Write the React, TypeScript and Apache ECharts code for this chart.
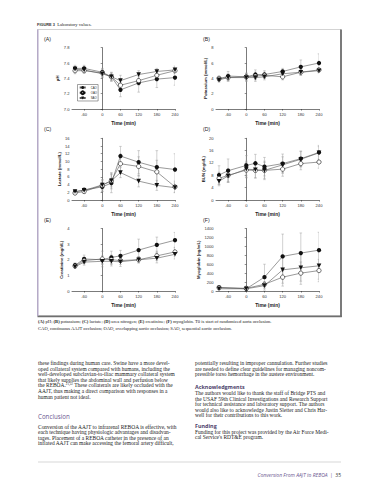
import React, { useEffect, useRef } from "react";
import * as echarts from "echarts";

const timeFull = [-90, -60, 0, 30, 60, 120, 180, 240];
const timeMyo = [-90, 0, 60, 120, 180, 240];
const xTicks = [-60, 0, 60, 120, 180, 240];
const groups = ["CAO", "OAO", "SAO"];

// (A) pH
const phCAO = [7.53, 7.53, 7.48, 7.42, 7.25, 7.34, 7.39, 7.41];
const phOAO = [7.5, 7.5, 7.47, 7.42, 7.31, 7.37, 7.44, 7.5];
const phSAO = [7.52, 7.51, 7.46, 7.42, 7.37, 7.45, 7.49, 7.51];
const phCAOsd = [0.04, 0.04, 0.05, 0.05, 0.09, 0.12, 0.11, 0.1];
const phOAOsd = [0.04, 0.03, 0.05, 0.06, 0.08, 0.06, 0.06, 0.04];
const phSAOsd = [0.03, 0.04, 0.05, 0.05, 0.07, 0.05, 0.04, 0.05];

// (B) potassium
const kCAO = [3.9, 4.3, 4.2, 4.5, 4.5, 4.9, 5.5, 6.0];
const kOAO = [4.0, 4.1, 4.2, 4.3, 4.4, 4.2, 4.8, 5.1];
const kSAO = [3.8, 4.1, 4.1, 4.1, 4.2, 4.6, 4.8, 5.0];
const kCAOsd = [0.3, 0.6, 0.5, 0.6, 0.5, 0.4, 0.9, 1.2];
const kOAOsd = [0.3, 0.4, 0.4, 0.5, 0.4, 0.4, 0.4, 0.3];
const kSAOsd = [0.3, 0.5, 0.5, 0.5, 0.4, 0.3, 0.4, 0.3];

// (C) lactate
const lacCAO = [2.1, 2.6, 3.4, 4.4, 11.4, 9.8, 8.5, 7.9];
const lacOAO = [1.8, 2.2, 3.8, 5.0, 9.4, 8.7, 7.3, 3.4];
const lacSAO = [2.2, 2.5, 3.9, 5.0, 7.1, 4.9, 3.8, 3.2];
const lacCAOsd = [0.4, 0.6, 1.2, 2.5, 2.5, 3.0, 4.3, 4.1];
const lacOAOsd = [0.4, 0.5, 1.5, 2.1, 2.5, 2.5, 3.0, 1.5];
const lacSAOsd = [0.4, 0.6, 1.2, 1.6, 1.3, 1.5, 1.3, 1.2];

// (D) BUN
const bunCAO = [8.1, 9.5, 11.2, 11.9, 10.8, 11.8, 13.4, 15.4];
const bunOAO = [7.0, 8.0, 9.7, 9.6, 9.6, 10.0, 11.8, 12.3];
const bunSAO = [6.1, 7.8, 10.0, 9.8, 9.6, 11.4, 13.2, 15.3];
const bunCAOsd = [3.0, 3.8, 3.2, 2.9, 3.0, 3.1, 2.5, 2.3];
const bunOAOsd = [2.0, 2.1, 2.5, 2.5, 2.6, 2.3, 2.0, 2.0];
const bunSAOsd = [1.5, 2.0, 2.6, 2.6, 3.0, 2.6, 2.5, 2.0];

// (E) creatinine
const crCAO = [1.65, 2.05, 2.0, 2.15, 2.25, 2.62, 2.95, 3.25];
const crOAO = [1.6, 1.95, 2.05, 2.0, 1.95, 2.0, 2.25, 2.5];
const crSAO = [1.55, 1.85, 1.9, 1.9, 1.87, 2.0, 2.1, 2.35];
const crCAOsd = [0.15, 0.25, 0.25, 0.4, 0.35, 0.7, 0.5, 0.5];
const crOAOsd = [0.1, 0.2, 0.5, 0.3, 0.25, 0.2, 0.3, 0.3];
const crSAOsd = [0.1, 0.2, 0.2, 0.3, 0.3, 0.2, 0.3, 0.3];

// (F) myoglobin
const myoCAO = [80, 50, 310, 775, 850, 915];
const myoOAO = [75, 60, 150, 310, 400, 458];
const myoSAO = [50, 50, 120, 474, 520, 564];
const myoCAOsd = [40, 20, 290, 500, 450, 400];
const myoOAOsd = [30, 20, 60, 200, 250, 250];
const myoSAOsd = [20, 20, 60, 300, 300, 300];

const bodyLeft = [
  "these findings during human care. Swine have a more devel-",
  "oped collateral system compared with humans, including the",
  "well-developed subclavian-to-iliac mammary collateral system",
  "that likely supplies the abdominal wall and perfusion below",
  "the REBOA.{s|21,22} These collaterals are likely occluded with the",
  "AAJT, thus making a direct comparison with responses in a",
  "human patient not ideal.",
];
const bodyLeft2 = [
  "Conversion of the AAJT to infrarenal REBOA is effective, with",
  "each technique having physiologic advantages and disadvan-",
  "tages. Placement of a REBOA catheter in the presence of an",
  "inflated AAJT can make accessing the femoral artery difficult,",
];
const bodyRight1 = [
  "potentially resulting in improper cannulation. Further studies",
  "are needed to define clear guidelines for managing noncom-",
  "pressible torso hemorrhage in the austere environment.",
];
const bodyRight2 = [
  "The authors would like to thank the staff of Bridge PTS and",
  "the USAF 59th Clinical Investigations and Research Support",
  "for technical assistance and laboratory support. The authors",
  "would also like to acknowledge Justin Sletter and Chris Har-",
  "well for their contributions to this work.",
];
const bodyRight3 = [
  "Funding for this project was provided by the Air Force Medi-",
  "cal Service's RDT&E program.",
];

const panels = [
  { tag: "(A)", yName: "pH", min: 7.0, max: 7.8, step: 0.2, dec: 1, t: timeFull, v: [phCAO, phOAO, phSAO], e: [phCAOsd, phOAOsd, phSAOsd], gap: 13 },
  { tag: "(B)", yName: "Potassium (mmol/L)", min: 0, max: 8, step: 2, dec: 0, t: timeFull, v: [kCAO, kOAO, kSAO], e: [kCAOsd, kOAOsd, kSAOsd], gap: 6 },
  { tag: "(C)", yName: "Lactate (mmol/L)", min: 0, max: 16, step: 2, dec: 0, t: timeFull, v: [lacCAO, lacOAO, lacSAO], e: [lacCAOsd, lacOAOsd, lacSAOsd], gap: 11 },
  { tag: "(D)", yName: "BUN (mg/dL)", min: 0, max: 20, step: 4, dec: 0, t: timeFull, v: [bunCAO, bunOAO, bunSAO], e: [bunCAOsd, bunOAOsd, bunSAOsd], gap: 9 },
  { tag: "(E)", yName: "Creatinine (mg/dL)", min: 0, max: 4, step: 1, dec: 0, t: timeFull, v: [crCAO, crOAO, crSAO], e: [crCAOsd, crOAOsd, crSAOsd], gap: 9 },
  { tag: "(F)", yName: "Myoglobin (ng/mL)", min: 0, max: 1400, step: 200, dec: 0, t: timeMyo, v: [myoCAO, myoOAO, myoSAO], e: [myoCAOsd, myoOAOsd, myoSAOsd], gap: 15 },
];

const colLeft = [72, 216];
const rowTop = [47.7, 138.3, 228.5];
const rowBottom = [109, 200, 291];
const gridW = 103;
const SANS = "Liberation Sans";
const SERIF = "Liberation Serif";
const HEAD = "Open Sans";

function txt(x: number, y: number, text: string, style: any = {}) {
  return {
    type: "text",
    x,
    y,
    silent: true,
    style: { text, fill: "#222", fontSize: 5.4, fontFamily: SERIF, verticalAlign: "middle", align: "left", ...style },
  };
}

function buildOption() {
  const grid: any[] = [];
  const xAxis: any[] = [];
  const yAxis: any[] = [];
  const lineSeries: any[] = [];
  const errSeries: any[] = [];
  const graphic: any[] = [];

  panels.forEach((p, i) => {
    const col = i % 2;
    const row = Math.floor(i / 2);
    grid.push({ left: colLeft[col], top: rowTop[row], width: gridW, height: rowBottom[row] - rowTop[row] });
    xAxis.push({
      type: "value",
      gridIndex: i,
      min: -100,
      max: 240,
      axisLine: { show: true, onZero: false, lineStyle: { color: "#222", width: 0.6 } },
      axisTick: { show: true, customValues: xTicks, length: 1.6, lineStyle: { color: "#222", width: 0.5 } },
      axisLabel: { customValues: xTicks, fontSize: 4.1, color: "#333", margin: 3.5, fontFamily: SANS },
      splitLine: { show: false },
      name: "Time (min)",
      nameLocation: "middle",
      nameGap: 12,
      nameTextStyle: { fontSize: 4.9, fontWeight: "bold", color: "#222", fontFamily: SANS },
    });
    yAxis.push({
      type: "value",
      gridIndex: i,
      min: p.min,
      max: p.max,
      interval: p.step,
      axisLine: { show: true, lineStyle: { color: "#222", width: 0.6 } },
      axisTick: { show: true, length: 1.6, lineStyle: { color: "#222", width: 0.5 } },
      axisLabel: {
        fontSize: 4.1,
        color: "#333",
        margin: 2.5,
        fontFamily: SANS,
        formatter: (v: number) => (p.dec ? v.toFixed(p.dec) : String(Math.round(v))),
      },
      splitLine: { show: false },
      name: p.yName,
      nameLocation: "middle",
      nameGap: p.gap,
      nameTextStyle: { fontSize: 4.3, fontWeight: "bold", color: "#222", fontFamily: SANS },
    });
    graphic.push(txt(col === 0 ? 44 : 203, rowTop[row] - 9, p.tag, { fontFamily: SANS, fontSize: 5.2, fill: "#222" }));

    groups.forEach((g, k) => {
      const vals = p.v[k];
      const sds = p.e[k];
      lineSeries.push({
        type: "line",
        name: g,
        xAxisIndex: i,
        yAxisIndex: i,
        data: p.t.map((t, j) => [t, vals[j]]),
        symbol: g === "SAO" ? "triangle" : "circle",
        symbolRotate: g === "SAO" ? 180 : 0,
        symbolSize: g === "SAO" ? 4.6 : 4.3,
        color: "#111",
        lineStyle: { color: "#555", width: 0.6 },
        itemStyle: { color: g === "OAO" ? "#fff" : "#111", borderColor: "#111", borderWidth: g === "OAO" ? 0.6 : 0 },
        z: 4,
        silent: true,
      });
      errSeries.push({
        type: "custom",
        xAxisIndex: i,
        yAxisIndex: i,
        data: p.t.map((t, j) => [t, vals[j] - sds[j], vals[j] + sds[j]]),
        encode: { x: 0, y: [1, 2] },
        z: 2,
        silent: true,
        clip: true,
        renderItem: (params: any, api: any) => {
          const x = api.value(0);
          const lo = api.coord([x, api.value(1)]);
          const hi = api.coord([x, api.value(2)]);
          const w = 1.3;
          const st = { stroke: "#999", lineWidth: 0.45 };
          return {
            type: "group",
            children: [
              { type: "line", shape: { x1: lo[0], y1: lo[1], x2: hi[0], y2: hi[1] }, style: st },
              { type: "line", shape: { x1: lo[0] - w, y1: lo[1], x2: lo[0] + w, y2: lo[1] }, style: st },
              { type: "line", shape: { x1: hi[0] - w, y1: hi[1], x2: hi[0] + w, y2: hi[1] }, style: st },
            ],
          };
        },
      });
    });
  });

  // figure frame
  graphic.push(
    { type: "rect", shape: { x: 37.5, y: 29.5, width: 303.5, height: 286.5 }, style: { fill: "none", stroke: "#b5b5b5", lineWidth: 0.6 }, silent: true },
    { type: "line", shape: { x1: 341, y1: 29.5, x2: 341, y2: 317 }, style: { stroke: "#6f6f6f", lineWidth: 1.8 }, silent: true },
    { type: "line", shape: { x1: 37.5, y1: 316.3, x2: 341.8, y2: 316.3 }, style: { stroke: "#6f6f6f", lineWidth: 1.8 }, silent: true },
    { type: "line", shape: { x1: 37.8, y1: 29.5, x2: 37.8, y2: 316 }, style: { stroke: "#b2a6c6", lineWidth: 1.4 }, silent: true }
  );

  // title
  graphic.push(
    txt(37, 24, "{b|FIGURE 3}  Laboratory values.", {
      fontSize: 4.6,
      rich: { b: { fontFamily: SANS, fontWeight: "bold", fontSize: 3.9, fill: "#333" } },
    })
  );

  // caption
  graphic.push(
    txt(38, 321.5, "{b|(A)} pH; {b|(B)} potassium; {b|(C)} lactate; {b|(D)} urea nitrogen; {b|(E)} creatinine; {b|(F)} myoglobin. T0 is start of randomized aorta occlusion.", {
      fontSize: 4.6,
      rich: { b: { fontWeight: "bold", fontSize: 4.6, fontFamily: SERIF } },
    }),
    txt(38, 328.5, "CAO, continuous AAJT occlusion; OAO, overlapping aortic occlusion; SAO, sequential aortic occlusion.", { fontSize: 4.6 })
  );

  const L = 5.6;
  const bodyStyle = { fontSize: 5.45, rich: { s: { fontSize: 3.2, verticalAlign: "top", fontFamily: SERIF, padding: [0, 0, 3, 0] } } };
  bodyLeft.forEach((s, j) => graphic.push(txt(38, 363 + j * L, s, bodyStyle)));
  graphic.push(txt(38, 416.5, "Conclusion", { fontFamily: HEAD, fontSize: 6.2, fill: "#6a5790" }));
  bodyLeft2.forEach((s, j) => graphic.push(txt(38, 426.5 + j * L, s, bodyStyle)));
  bodyRight1.forEach((s, j) => graphic.push(txt(195, 363 + j * L, s, bodyStyle)));
  graphic.push(txt(195, 387, "Acknowledgments", { fontFamily: HEAD, fontSize: 5.4, fontWeight: "bold", fill: "#4d3f6b" }));
  bodyRight2.forEach((s, j) => graphic.push(txt(195, 393 + j * L, s, bodyStyle)));
  graphic.push(txt(195, 426, "Funding", { fontFamily: HEAD, fontSize: 5.4, fontWeight: "bold", fill: "#4d3f6b" }));
  bodyRight3.forEach((s, j) => graphic.push(txt(195, 431.5 + j * L, s, bodyStyle)));

  // footer
  graphic.push(
    { type: "line", shape: { x1: 38, y1: 462, x2: 341, y2: 462 }, style: { stroke: "#bdbdbd", lineWidth: 0.6 }, silent: true },
    txt(341, 475, "{i|Conversion From AAJT to REBOA}  {p||}  {n|35}", {
      align: "right",
      fontSize: 5,
      rich: {
        i: { fontFamily: HEAD, fontStyle: "italic", fontSize: 5, fill: "#6a5790" },
        p: { fontFamily: HEAD, fontSize: 5, fill: "#6a5790" },
        n: { fontFamily: HEAD, fontSize: 5, fill: "#333" },
      },
    })
  );

  return {
    animation: false,
    backgroundColor: "#fff",
    grid,
    xAxis,
    yAxis,
    legend: {
      data: groups,
      orient: "vertical",
      left: 77.5,
      top: 84.5,
      itemWidth: 6,
      itemHeight: 3.6,
      itemGap: 1.3,
      padding: [1.5, 1.2, 1.5, 1.2],
      borderColor: "#444",
      borderWidth: 0.5,
      selectedMode: false,
      textStyle: { fontSize: 2.8, color: "#222", fontFamily: SANS },
    },
    series: [...lineSeries, ...errSeries],
    graphic,
  };
}

export default function App() {
  const ref = useRef<HTMLDivElement>(null);
  useEffect(() => {
    const chart = echarts.init(ref.current as HTMLDivElement, null, { renderer: "svg", width: 369, height: 480 });
    chart.setOption(buildOption() as any);
    return () => chart.dispose();
  }, []);
  return (
    <div
      ref={ref}
      style={{ position: "absolute", left: 0, top: 0, width: 369, height: 480, background: "#fff" }}
    />
  );
}
